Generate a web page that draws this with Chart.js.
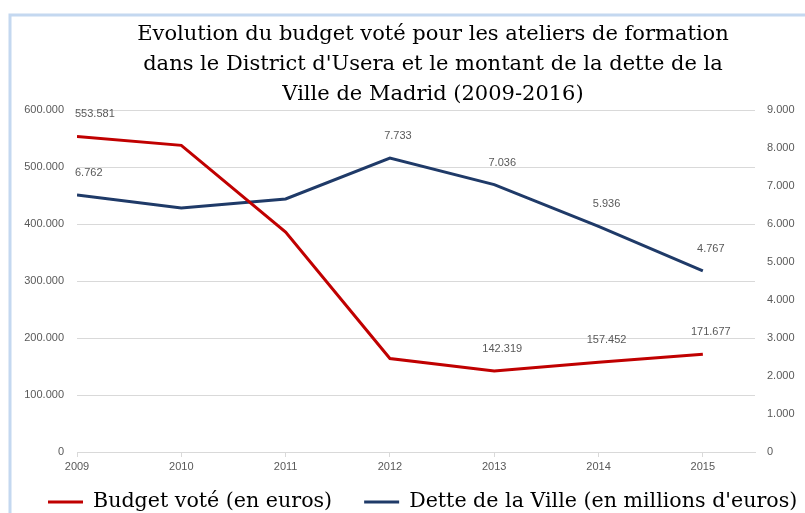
<!DOCTYPE html>
<html>
<head>
<meta charset="utf-8">
<script src="https://cdn.jsdelivr.net/npm/chart.js@4.4.0/dist/chart.umd.min.js"></script>
<style>
  html, body { margin: 0; padding: 0; background: #fff; }
  #wrap { width: 805px; height: 513px; }
</style>
</head>
<body>
<div id="wrap"><canvas id="chart" width="805" height="513"></canvas></div>
<script>
// Données
const years = [2009, 2010, 2011, 2012, 2013, 2014, 2015];
const budgetVote = [553581, 538000, 386000, 164000, 142319, 157452, 171677];
const detteVille = [6762, 6420, 6660, 7733, 7036, 5936, 4767];

// Étiquettes de données affichées (null = pas d'étiquette)
const budgetLabels = [553581, null, null, null, 142319, 157452, 171677];
const detteLabels = [6762, null, null, 7733, 7036, 5936, 4767];

// Graduations des axes
const leftTicks = [0, 100000, 200000, 300000, 400000, 500000, 600000];
const rightTicks = [0, 1000, 2000, 3000, 4000, 5000, 6000, 7000, 8000, 9000];

const titleLines = [
    "Evolution du budget voté pour les ateliers de formation",
    "dans le District d'Usera et le montant de la dette de la",
    "Ville de Madrid (2009-2016)"
];
const seriesNames = ["Budget voté (en euros)", "Dette de la Ville (en millions d'euros)"];

const RED = '#c00000';
const BLUE = '#1f3a68';
const GRAY_TEXT = '#595959';
const GRID = '#d9d9d9';
const smallFont = { family: '"Liberation Sans", Arial, sans-serif', size: 11 };

// Format avec point comme séparateur de milliers
function formatFr(v) {
    return String(Math.round(v)).replace(/\B(?=(\d{3})+(?!\d))/g, '.');
}

/**
 * Cadre, titre, étiquettes et légende dessinés à la main
 */
const decorPlugin = {
    id: 'decor',
    beforeDraw(chart) {
        const ctx = chart.ctx;
        ctx.save();
        ctx.strokeStyle = '#c4d8f0';
        ctx.lineWidth = 3;
        ctx.beginPath();
        ctx.moveTo(10, 513);
        ctx.lineTo(10, 15);
        ctx.lineTo(805, 15);
        ctx.stroke();
        ctx.restore();
    },
    afterDatasetsDraw(chart) {
        const ctx = chart.ctx;
        const area = chart.chartArea;
        const labelSets = [budgetLabels, detteLabels];
        ctx.save();
        ctx.font = smallFont.size + 'px ' + smallFont.family;
        ctx.fillStyle = GRAY_TEXT;
        ctx.textAlign = 'center';
        ctx.textBaseline = 'middle';
        labelSets.forEach((labels, di) => {
            const meta = chart.getDatasetMeta(di);
            labels.forEach((val, i) => {
                if (val === null) return;
                const pt = meta.data[i];
                const txt = formatFr(val);
                const w = ctx.measureText(txt).width;
                const x = Math.max(pt.x + 8, area.left + w / 2 - 2);
                ctx.fillText(txt, x, pt.y - 22);
            });
        });
        ctx.restore();
    },
    afterDraw(chart) {
        const ctx = chart.ctx;
        ctx.save();
        // Titre
        ctx.font = '21px "DejaVu Serif", serif';
        ctx.fillStyle = '#000';
        ctx.textAlign = 'center';
        ctx.textBaseline = 'alphabetic';
        titleLines.forEach((line, i) => {
            ctx.fillText(line, 433, 40 + i * 30);
        });
        // Légende
        ctx.font = '20.6px "DejaVu Serif", serif';
        ctx.textAlign = 'left';
        const colors = [RED, BLUE];
        let x = 48;
        seriesNames.forEach((name, i) => {
            ctx.strokeStyle = colors[i];
            ctx.lineWidth = 3;
            ctx.beginPath();
            ctx.moveTo(x, 502);
            ctx.lineTo(x + 35, 502);
            ctx.stroke();
            ctx.fillText(name, x + 45, 507);
            x += 45 + ctx.measureText(name).width + 32;
        });
        ctx.restore();
    }
};

function makePoints(values) {
    return years.map((yr, i) => ({ x: yr, y: values[i] }));
}

const chart = new Chart(document.getElementById('chart'), {
    type: 'line',
    data: {
        datasets: [{
            label: seriesNames[0],
            data: makePoints(budgetVote),
            borderColor: RED,
            backgroundColor: RED,
            borderWidth: 3,
            pointRadius: 0,
            tension: 0,
            yAxisID: 'yLeft'
        }, {
            label: seriesNames[1],
            data: makePoints(detteVille),
            borderColor: BLUE,
            backgroundColor: BLUE,
            borderWidth: 3,
            pointRadius: 0,
            tension: 0,
            yAxisID: 'yRight'
        }]
    },
    options: {
        responsive: false,
        animation: false,
        devicePixelRatio: 1,
        layout: { padding: { top: 110, left: 0, right: 0, bottom: 41 } },
        plugins: {
            legend: { display: false },
            title: { display: false },
            tooltip: { enabled: false }
        },
        scales: {
            x: {
                type: 'linear',
                position: 'bottom',
                min: 2009,
                max: 2015.5,
                ticks: {
                    stepSize: 1,
                    includeBounds: false,
                    autoSkip: false,
                    maxRotation: 0,
                    padding: 3,
                    font: smallFont,
                    color: GRAY_TEXT,
                    callback: v => String(v)
                },
                grid: { drawOnChartArea: false, drawTicks: true, tickLength: 5, color: GRID },
                border: { display: true, color: GRID },
                afterFit(s) { s.height = 20; }
            },
            yLeft: {
                position: 'left',
                min: 0,
                max: 600000,
                afterBuildTicks(s) { s.ticks = leftTicks.map(v => ({ value: v })); },
                ticks: { padding: 13, font: smallFont, color: GRAY_TEXT, callback: v => formatFr(v) },
                grid: { color: GRID, drawTicks: false },
                border: { display: false },
                afterFit(s) { s.width = 77; }
            },
            yRight: {
                position: 'right',
                min: 0,
                max: 9000,
                afterBuildTicks(s) { s.ticks = rightTicks.map(v => ({ value: v })); },
                ticks: { padding: 12, font: smallFont, color: GRAY_TEXT, callback: v => formatFr(v) },
                grid: { drawOnChartArea: false, drawTicks: false },
                border: { display: false },
                afterFit(s) { s.width = 50; }
            }
        }
    },
    plugins: [decorPlugin]
});
</script>
</body>
</html>
